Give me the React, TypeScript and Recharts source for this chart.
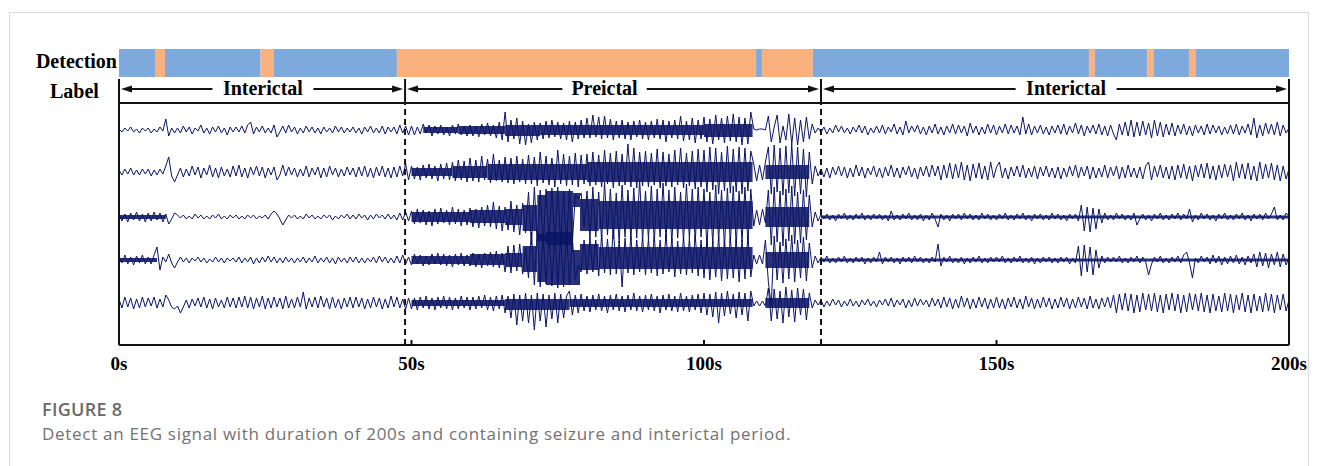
import React from "react";
import {
  BarChart,
  Bar,
  ComposedChart,
  Line,
  XAxis,
  YAxis,
  ReferenceLine,
  ReferenceArea,
} from "recharts";

// time axis (seconds)
const TIME_TICKS = [0, 50, 100, 150, 200];
const SAMPLE_STEP = 0.5; // one sample every 0.5 s, rows of 10 s

// detection strip: boundaries (s) and predicted state of each piece
const detectionEdges = [0, 6.15, 7.86, 24.2, 26.5, 47.5, 108.9, 109.9, 118.6, 165.8, 166.8, 175.8, 176.9, 182.9, 184.1, 200];
const detectionStates = ["inter", "pre", "inter", "pre", "inter", "pre", "inter", "pre", "inter", "pre", "inter", "pre", "inter", "pre", "inter"];

// ground truth periods
const periodNames = ["Interictal", "Preictal", "Interictal"];
const periodBounds = [0, 48.9, 120, 200];
const periodLabelAt = [24.6, 83, 161.9];

// EEG amplitudes (px-ish units), 20 samples per 10 s row
const ch1 = [
  [1, -2, 2, -1, 3, -2, 1, -3, 2, -1, 2, -3, 1, -2, 3, -1, 11, -6, 2, -3],
  [2, -3, 4, -2, 3, -4, 2, -1, 5, -3, 2, -4, 3, -2, 4, -3, 2, -5, 3, -2],
  [3, -2, 4, -3, 5, 8, -4, 3, -2, 4, -3, 2, -3, 5, -7, -2, 4, -3, 5, -2],
  [3, -4, 2, -3, 4, -2, 3, -3, 2, -4, 3, -2, 2, -3, 4, -2, 3, -3, 2, -2],
  [3, -3, 2, -4, 3, -2, 4, -3, 2, -3, 4, -4, 3, -2, 3, -4, 5, -3, 4, -5],
  [4, -5, 3, -4, 6, -3, 5, -6, 4, -4, 5, -5, 3, -6, 5, -4, 6, -5, 4, -6],
  [5, -6, 4, -7, 6, -5, 7, -6, 5, -8, 8, -10, 18, -12, 10, -9, 12, -14, 9, -15],
  [6, -13, 8, -10, 7, -9, 9, -8, 10, -7, 8, -9, 7, -10, 9, -12, 8, -9, 10, -8],
  [12, -8, 15, -7, 13, -9, 14, -8, 11, -10, 9, -8, 10, -9, 8, -10, 9, -7, 10, -9],
  [8, -10, 9, -8, 11, -9, 10, -12, 9, -8, 10, -9, 14, -11, 9, -10, 12, -13, 10, -9],
  [13, -12, 11, -14, 15, -10, 12, -13, 14, -11, 16, -12, 13, -15, 12, -14, 18, 1, 0, 1],
  [1, 0, 14, -12, 3, 15, -13, 4, -10, 16, -14, 12, -15, 10, -12, 13, -9, 6, -3, 2],
  [-2, 3, -4, 2, -3, 5, -2, 4, -3, 2, -4, 3, -2, 5, -3, 4, -5, 2, -3, 4],
  [-3, 5, -4, 3, -2, 6, -4, 3, -5, 9, -3, 4, -2, 5, -4, 3, -5, 4, -3, 6],
  [-4, 3, -5, 4, -3, 6, -4, 5, -3, 4, -6, 7, -3, 4, -5, 3, -4, 6, -3, 5],
  [-5, 4, -3, 6, -4, 5, -3, 4, -5, 13, -4, 6, -5, 4, -3, 5, -4, 3, -5, 4],
  [-3, 5, -4, 6, -5, 4, -3, 7, -4, 5, -6, 4, -3, 5, -4, 6, -5, 4, -6, 5],
  [-4, -10, 6, -5, 8, -6, 10, -7, 8, -6, 9, -5, 7, -8, 10, -6, 8, -7, 6, -5],
  [7, -6, 5, -4, 6, -5, 4, -6, 5, -3, 4, -5, 6, -4, 5, -3, 4, -5, 3, -4],
  [5, -4, 6, -5, 4, -3, 6, -5, 12, -8, 5, -6, 7, -4, 6, -5, 8, -6, 5, -3],
  [2],
];

const ch2 = [
  [2, -3, 3, -2, 4, -3, 2, -3, 3, -2, 3, -4, 2, -3, 3, -2, 6, 15, -4, -10],
  [-3, 4, -5, 3, -4, 6, -3, 5, -6, 4, -3, 7, -5, 4, -6, 5, -4, 3, -5, 6],
  [-4, 7, -5, 4, -6, 5, -3, 6, -4, 5, -6, 4, -3, 5, -8, -3, 7, -4, 5, -3],
  [4, -5, 3, -4, 6, -5, 4, -3, 5, -6, 4, -5, 6, -3, 4, -5, 3, -4, 5, -3],
  [4, -5, 5, -4, 6, -5, 4, -6, 5, -4, 6, -5, 4, -6, 5, -5, 6, -4, 8, -8],
  [6, -7, 5, -8, 7, -6, 8, -7, 6, -9, 8, -7, 9, -8, 10, -9, 12, -8, 11, -10],
  [14, -9, 12, -10, 16, -8, 13, -11, 18, -9, 12, -10, 15, -11, 14, -12, 16, -10, 13, -12],
  [17, -12, 15, -14, 20, -11, 16, -13, 14, -15, 22, -12, 18, -14, 16, -13, 19, -15, 17, -12],
  [18, -14, 20, -13, 17, -15, 22, -12, 19, -16, 21, -14, 18, -13, 28, -15, 24, -16, 20, -14],
  [21, -15, 19, -13, 23, -16, 20, -14, 18, -15, 22, -13, 24, -16, 19, -14, 21, -17, 23, -15],
  [22, -20, 25, -18, 24, -22, 20, -19, 26, -21, 23, -20, 25, -22, 24, -19, 21, 8, -9, 7],
  [-8, 10, 25, -22, 27, -20, 24, -23, 26, -21, 28, -24, 25, -22, 23, -25, 20, -12, 6, -4],
  [3, -5, 4, -6, 5, -3, 6, -4, 5, -6, 4, -5, 7, -4, 5, -6, 4, -3, 6, -5],
  [4, -6, 5, -4, 7, -5, 4, -6, 5, -3, 6, -5, 4, -7, 5, -4, 6, -5, 7, -4],
  [6, -8, 7, -6, 9, -7, 8, -6, 10, -8, 7, -9, 8, -6, 9, -7, 6, -8, 10, -6],
  [5, 10, -6, 4, -7, 5, -4, 6, -5, 7, -6, 4, -5, 6, -7, 5, -4, 6, -5, 4],
  [-6, 5, -7, 4, -5, 6, -4, 7, -6, 5, -4, 6, -7, 5, -6, 4, -5, 7, -6, 5],
  [-4, 6, -7, 5, -6, 7, -5, 4, -6, 5, -7, 6, 10, -8, 6, -5, 7, -6, 5, -7],
  [6, -8, 7, -6, 8, -7, 6, -9, 7, -5, 8, -6, 9, -7, 6, -8, 7, -6, 8, -5],
  [7, -9, 10, -6, 8, -7, 9, -8, 6, -9, 10, -7, 8, -6, 9, -8, 7, -9, 6, -7],
  [3],
];

const ch3 = [
  [4, -4, 3, -5, 4, -3, 5, -4, 3, -5, 4, -4, 5, -3, 4, -5, 3, -7, -2, 4],
  [2, -1, 2, -2, 1, -2, 3, -1, 2, -2, 1, -2, 2, -1, 3, -2, 1, -2, 2, -1],
  [2, -2, 1, -2, 2, -1, 2, -2, 1, -1, 2, -2, 3, 6, 3, -2, -8, -3, 2, -1],
  [2, -2, 1, -2, 3, -1, 2, -2, 1, -2, 2, -1, 2, -3, 1, -2, 2, -1, 3, -2],
  [2, -2, 3, -1, 2, -3, 2, -2, 3, -1, 2, -2, 3, -2, 2, -3, 4, -3, 5, -4],
  [6, -7, 8, -6, 7, -8, 6, -9, 8, -7, 9, -6, 7, -8, 10, -7, 8, -9, 7, -8],
  [9, -10, 8, -11, 10, -9, 12, -10, 15, -12, 11, -14, 10, -13, 16, -15, 12, -18, 14, -16],
  [25, -28, 30, -25, 27, -30, 28, -26, 29, -27, 30, -28, 26, -29, 28, -25, 22, 18, 24, -10],
  [26, -22, 30, -20, 25, -24, 35, -18, 28, -22, 24, -26, 32, -20, 27, -23, 29, -21, 38, -24],
  [26, -22, 31, -25, 28, -20, 34, -23, 27, -26, 30, -21, 25, -24, 33, -22, 28, -25, 30, -20],
  [28, -30, 25, -27, 32, -24, 27, -30, 29, -26, 31, -28, 26, -25, 30, -27, 28, -9, 7, -8],
  [8, -6, 27, -28, 30, -25, 26, -29, 28, -24, 31, -27, 25, -26, 27, -23, 22, -10, 5, -4],
  [3, -2, 3, -3, 2, -4, 3, -2, 4, -3, 2, -3, 3, -2, 4, -3, 2, -3, 3, -2],
  [3, -3, 2, -4, 6, -3, 2, -3, 3, -2, 4, -3, 2, -3, 3, -4, 2, -3, 4, -2],
  [-10, 3, -3, 2, -4, 3, -2, 3, -3, 4, -2, 3, -3, 2, -3, 4, -2, 3, -3, 2],
  [-3, 3, -2, 4, -3, 2, -3, 3, -2, 4, -3, 2, -4, 3, -2, 3, -3, 2, -3, 4],
  [-2, 3, -3, 2, -4, 3, -2, 3, -4, 12, -14, 10, -15, 9, -12, 8, -6, 4, -3, 2],
  [-3, 4, -2, 3, -3, 2, -3, 4, -8, -2, 3, -3, 2, -4, 3, -2, 4, -3, 2, -3],
  [3, -2, 4, -3, 3, -2, 8, -5, 2, -3, 4, -2, 3, -3, 2, -4, 3, -2, 4, -3],
  [2, -3, 3, -2, 4, -3, 2, -4, 3, -2, 3, -3, 4, -2, 3, 10, -3, 2, -3, 4],
  [1],
];

const ch4 = [
  [4, -3, 5, -4, 3, -5, 4, -3, 5, -4, 3, -4, 5, 13, -10, 3, -2, 6, -3, -8],
  [-2, 3, -2, 2, -3, 2, -1, 3, -2, 2, -3, 1, -2, 3, -2, 2, -3, 2, -1, 2],
  [-2, 3, -3, 2, -2, 3, -4, 2, -3, 3, -2, 4, -2, 3, -3, 2, -3, 3, -2, 2],
  [-3, 2, -2, 3, -3, 2, -2, 4, -3, 2, -2, 3, -3, 2, -4, 3, -2, 2, -3, 3],
  [-2, 3, -3, 2, -3, 2, -2, 3, -3, 4, -2, 3, -3, 2, -3, 4, -3, 5, -4, 3],
  [-5, 6, -4, 5, -6, 4, -5, 6, -4, 7, -5, 6, -6, 5, -7, 6, -5, 7, -6, 5],
  [-6, 7, -7, 6, -8, 7, -6, 8, -7, 9, -8, 7, -12, 14, -13, 15, -11, 16, -14, 12],
  [-18, 28, -25, 30, -27, 26, -24, 29, -26, 27, -28, 25, -27, 28, -25, 22, -20, -5, -12, 20],
  [-14, 22, -12, 20, -16, 25, -13, 21, -15, 33, -14, 19, -27, 22, -13, 24, -15, 20, -12, 23],
  [-15, 21, -13, 24, -16, 20, -14, 26, -12, 22, -17, 19, -14, 23, -15, 21, -13, 25, -16, 20],
  [-18, 22, -20, 19, -17, 24, -21, 20, -19, 23, -18, 21, -22, 20, -19, 24, -17, 5, -4, 5],
  [-4, 20, -22, -45, 24, -20, 18, -23, 21, -19, 25, -22, 20, -18, 23, -21, 17, -8, 4, -3],
  [3, -2, 4, -3, 2, -3, 3, -2, 4, -3, 2, -3, 3, -2, 3, -4, 2, -3, 3, -2],
  [8, -4, 3, -2, 3, -3, 2, -4, 3, -2, 3, -3, 4, -2, 3, -3, 2, -3, 3, -2],
  [16, -6, 3, -2, 4, -3, 2, -3, 3, -4, 2, -3, 3, -2, 4, -3, 2, -3, 3, -2],
  [3, -2, 4, -3, 2, -3, 3, -2, 4, -3, 2, -3, 3, -4, 2, -3, 3, -2, 3, -3],
  [2, -3, 3, -2, 3, -4, 2, -3, 14, -16, 15, -12, 13, -15, 10, -8, 4, -3, 3, -2],
  [3, -2, 4, -3, 2, -3, 3, -2, 4, -3, 3, -2, -15, -4, 3, -2, 4, -3, 2, -3],
  [3, -2, 4, -3, 5, 8, -3, -18, 2, -3, 4, -2, 3, -4, 5, -3, 4, -5, 3, -4],
  [4, -3, 5, -4, 3, -5, 4, -3, 6, -7, 8, -6, 7, -8, 6, -5, 8, -7, 6, -5],
  [2],
];

const ch5 = [
  [4, -5, 6, -4, 5, -6, 4, -5, 6, -4, 5, -3, 6, -5, 4, -4, 8, 3, -4, -6],
  [-3, -10, -4, 3, -5, 4, -3, 5, -4, 6, -5, 4, -6, 5, -4, 3, -5, 6, -4, 5],
  [-5, 6, -4, 7, -5, 6, -6, 5, -4, 7, -6, 5, -5, 6, -4, 5, -6, 7, -5, 4],
  [-5, 6, -4, 11, -6, 5, -4, 6, -5, 7, -4, 5, -6, 6, -5, 4, -6, 5, -4, 6],
  [-5, 6, -4, 5, -6, 4, -5, 6, -4, 5, -6, 4, -5, 7, -4, 6, -5, 4, -6, 5],
  [-6, 5, -7, 6, -5, 7, -6, 5, -7, 6, -5, 7, -6, 6, -7, 5, -6, 7, -5, 6],
  [-7, 6, -6, 7, -5, 8, -7, 6, -8, 7, -6, 8, -10, 7, -15, 9, -22, 8, -18, 10],
  [-20, 8, -27, 10, -18, 9, -24, 8, -16, 10, -20, 9, -15, 7, 12, -12, 8, -10, 9, -8],
  [7, -9, 8, -7, 9, -8, 7, -10, 8, -7, 9, -8, 7, -9, 8, -7, 10, -8, 7, -9],
  [8, -7, 9, -8, 7, -10, 8, -7, 9, -8, 7, -9, 10, -8, 7, -9, 8, -7, 9, -10],
  [10, -12, 9, -14, 11, -20, 10, -13, 12, -11, 9, -15, 11, -12, 10, -18, 12, -3, 2, -3],
  [2, -3, 15, -18, 14, -16, 12, -20, 16, -14, 13, -19, 15, -12, 14, -17, 10, -5, 3, -2],
  [3, -4, 2, -3, 4, -2, 3, -4, 2, -3, 4, -3, 2, -4, 3, -2, 4, -3, 2, -4],
  [3, -2, 4, -3, 5, -4, 3, -2, 4, -5, 3, -4, 5, -3, 4, -2, 3, -4, 5, -3],
  [4, -5, 6, -4, 5, -6, 4, -5, 7, -4, 5, -6, 4, -5, 6, -4, 5, -6, 4, -5],
  [6, -5, 4, -6, 5, -4, 6, -5, 4, -6, 7, -4, 5, -6, 4, -5, 6, -4, 5, -6],
  [4, -5, 6, -4, 5, -6, 4, -5, 6, -4, 5, -6, 7, -5, 4, -6, 5, -4, 6, -5],
  [8, -10, 9, -7, 10, -8, 9, -10, 8, -9, 10, -7, 9, -8, 10, -9, 8, -10, 9, -7],
  [10, -8, 9, -10, 8, -9, 10, -7, 9, -8, 10, -9, 8, -10, 9, -8, 7, -9, 10, -8],
  [9, -10, 8, -7, 10, -9, 8, -10, 9, -8, 7, -9, 10, -8, 9, -10, 8, -7, 9, -8],
  [3],
];

// dense stretches where the trace fills in solid: [from s, to s, low, high]
const ch1Dense = [[52, 58, -3, 3], [58, 66, -4, 4], [66, 72, -6, 5], [72, 100, -5, 5], [100, 108.3, -7, 6]];
const ch2Dense = [[50, 57, -4, 4], [57, 63, -6, 6], [63, 80, -8, 8], [80, 108.3, -10, 10], [110.5, 118, -7, 7]];
const ch3Dense = [
  [0, 8, -2, 2], [50, 60, -5, 5], [60, 66, -6, 7], [66, 69, -8, 8], [69, 71.5, -14, 12],
  [71.5, 73, -24, 22], [73, 77.6, -28, 26], [77.6, 78.8, 10, 24], [78.8, 82, -14, 18],
  [82, 108.3, -12, 16], [110.5, 118, -10, 10], [120, 200, -1.5, 1.5],
];
const ch4Dense = [
  [0, 6.5, -2, 2], [50, 60, -4, 4], [60, 66, -5, 6], [66, 69, -7, 7], [69, 71.5, -12, 14],
  [71.5, 73, -22, 26], [73, 77.6, -25, 28], [77.6, 78.8, -25, 10], [78.8, 82, -10, 16],
  [82, 108.3, -9, 13], [110.5, 118, -8, 8], [120, 200, -1.5, 1.5],
];
const ch5Dense = [[50, 66, -3, 3], [66, 77, -7, 4], [77, 108.3, -4, 4], [110.5, 118, -5, 5]];

const channels = [ch1, ch2, ch3, ch4, ch5];
const denseParts = [ch1Dense, ch2Dense, ch3Dense, ch4Dense, ch5Dense];

// layout
const W = 1320;
const PLOT_LEFT = 119;
const PLOT_RIGHT = 31;
const Y_TOP = 266; // label row top, plot box starts at 242
const BOX_TOP = 242;
const ARROW_Y = 256;
const BASELINES = [215, 173, 128, 85, 42];
const NAVY = "#0b1466";
const INK = "#111";
const BLUE = "#7ea9dd";
const ORANGE = "#fbb17e";
const SERIF = "'Liberation Serif', 'Times New Roman', serif";
const SANS = "'Open Sans', sans-serif";

const eegRows = (() => {
  const rows: Record<string, number>[] = [];
  ch1.forEach((row, r) => {
    row.forEach((_, j) => {
      const item: Record<string, number> = { t: r * 10 + j * SAMPLE_STEP };
      channels.forEach((ch, k) => {
        const v = ch[r]?.[j];
        if (v !== undefined) item[`ch${k + 1}`] = BASELINES[k] + v;
      });
      rows.push(item);
    });
  });
  return rows;
})();

const detectionRow = (() => {
  const row: Record<string, number | string> = { name: "detection" };
  detectionStates.forEach((_, i) => {
    row[`s${i}`] = +(detectionEdges[i + 1] - detectionEdges[i]).toFixed(2);
  });
  return [row];
})();

function periodShape(p: any, i: number) {
  const { x1, y1, x2 } = p;
  const head = 11;
  const half = 3.5;
  const left = x1 + 2;
  const right = x2 - 2;
  const from = periodBounds[i];
  const to = periodBounds[i + 1];
  const cx = x1 + (x2 - x1) * ((periodLabelAt[i] - from) / (to - from));
  const name = periodNames[i];
  const gap = name.length * 8.3 + 18;
  return (
    <g>
      <line x1={left + head - 1} y1={y1} x2={right - head + 1} y2={y1} stroke={INK} strokeWidth={2} />
      <polygon points={`${left},${y1} ${left + head},${y1 - half} ${left + head},${y1 + half}`} fill={INK} />
      <polygon points={`${right},${y1} ${right - head},${y1 - half} ${right - head},${y1 + half}`} fill={INK} />
      <rect x={cx - gap / 2} y={y1 - 11} width={gap} height={22} fill="#fff" />
      <text x={cx} y={y1 + 6} textAnchor="middle" fontFamily={SERIF} fontWeight="bold" fontSize={20} fill="#000">
        {name}
      </text>
    </g>
  );
}

function DetectionStrip() {
  return (
    <div style={{ position: "absolute", left: 0, top: 43 }}>
      <BarChart
        width={W}
        height={40}
        data={detectionRow}
        layout="vertical"
        margin={{ top: 6, right: PLOT_RIGHT, bottom: 6, left: PLOT_LEFT }}
        barCategoryGap={0}
      >
        <XAxis type="number" domain={[0, 200]} hide allowDataOverflow />
        <YAxis type="category" dataKey="name" hide />
        {detectionStates.map((s, i) => (
          <Bar
            key={i}
            dataKey={`s${i}`}
            stackId="det"
            fill={s === "pre" ? ORANGE : BLUE}
            isAnimationActive={false}
          />
        ))}
      </BarChart>
    </div>
  );
}

function EegChart() {
  return (
    <div style={{ position: "absolute", left: 0, top: 0 }}>
      <ComposedChart
        width={W}
        height={390}
        data={eegRows}
        margin={{ top: 79, right: PLOT_RIGHT, bottom: 0, left: PLOT_LEFT }}
      >
        <XAxis
          type="number"
          dataKey="t"
          domain={[0, 200]}
          ticks={TIME_TICKS}
          allowDataOverflow
          height={45}
          tickFormatter={(v) => `${v}s`}
          tick={{ fontFamily: SERIF, fontWeight: "bold", fontSize: 19, fill: "#000" }}
          axisLine={{ stroke: INK, strokeWidth: 2 }}
          tickLine={{ stroke: INK, strokeWidth: 2 }}
          tickSize={-5}
          tickMargin={17}
        />
        <YAxis type="number" domain={[0, Y_TOP]} hide allowDataOverflow />

        {denseParts.map((parts, k) =>
          parts.map(([a, b, lo, hi], j) => (
            <ReferenceArea
              key={`d${k}-${j}`}
              x1={a}
              x2={b}
              y1={BASELINES[k] + lo}
              y2={BASELINES[k] + hi}
              fill={NAVY}
              fillOpacity={0.88}
              stroke="none"
            />
          ))
        )}

        {channels.map((_, k) => (
          <Line
            key={k}
            dataKey={`ch${k + 1}`}
            type="linear"
            stroke={NAVY}
            strokeWidth={1}
            dot={false}
            isAnimationActive={false}
          />
        ))}

        {/* plot frame */}
        <ReferenceLine y={BOX_TOP} stroke={INK} strokeWidth={2} />
        <ReferenceLine segment={[{ x: 0, y: 0 }, { x: 0, y: Y_TOP }]} stroke={INK} strokeWidth={2} />
        <ReferenceLine segment={[{ x: 200, y: 0 }, { x: 200, y: Y_TOP }]} stroke={INK} strokeWidth={2} />

        {/* period boundaries */}
        {periodBounds.slice(1, -1).map((b) => (
          <ReferenceLine key={`tick${b}`} segment={[{ x: b, y: BOX_TOP }, { x: b, y: Y_TOP }]} stroke={INK} strokeWidth={2} />
        ))}
        {periodBounds.slice(1, -1).map((b) => (
          <ReferenceLine
            key={`dash${b}`}
            segment={[{ x: b, y: 0 }, { x: b, y: BOX_TOP }]}
            stroke={INK}
            strokeWidth={2}
            strokeDasharray="6 4"
          />
        ))}
        {periodNames.map((_, i) => (
          <ReferenceLine
            key={`span${i}`}
            segment={[{ x: periodBounds[i], y: ARROW_Y }, { x: periodBounds[i + 1], y: ARROW_Y }]}
            shape={(p: any) => periodShape(p, i)}
          />
        ))}
      </ComposedChart>
    </div>
  );
}

export default function App() {
  return (
    <div
      style={{
        position: "absolute",
        left: 0,
        top: 0,
        width: W,
        height: 466,
        overflow: "hidden",
        background: "#fff",
      }}
    >
      <div
        style={{
          position: "absolute",
          left: 9,
          top: 12,
          width: 1300,
          height: 470,
          border: "1px solid #d9d9d9",
          boxSizing: "border-box",
        }}
      />
      <EegChart />
      <DetectionStrip />
      <svg width={W} height={466} style={{ position: "absolute", left: 0, top: 0, pointerEvents: "none" }}>
        <text x={117} y={68} textAnchor="end" fontFamily={SERIF} fontWeight="bold" fontSize={20} fill="#000">
          Detection
        </text>
        <text x={50} y={98} fontFamily={SERIF} fontWeight="bold" fontSize={20} fill="#000">
          Label
        </text>
        <text x={42} y={416} fontFamily={SANS} fontWeight={600} fontSize={18} letterSpacing={0.3} fill="#6a6a6a">
          FIGURE 8
        </text>
        <text x={42} y={440} fontFamily={SANS} fontSize={17} letterSpacing={0.7} fill="#727272">
          Detect an EEG signal with duration of 200s and containing seizure and interictal period.
        </text>
      </svg>
    </div>
  );
}
